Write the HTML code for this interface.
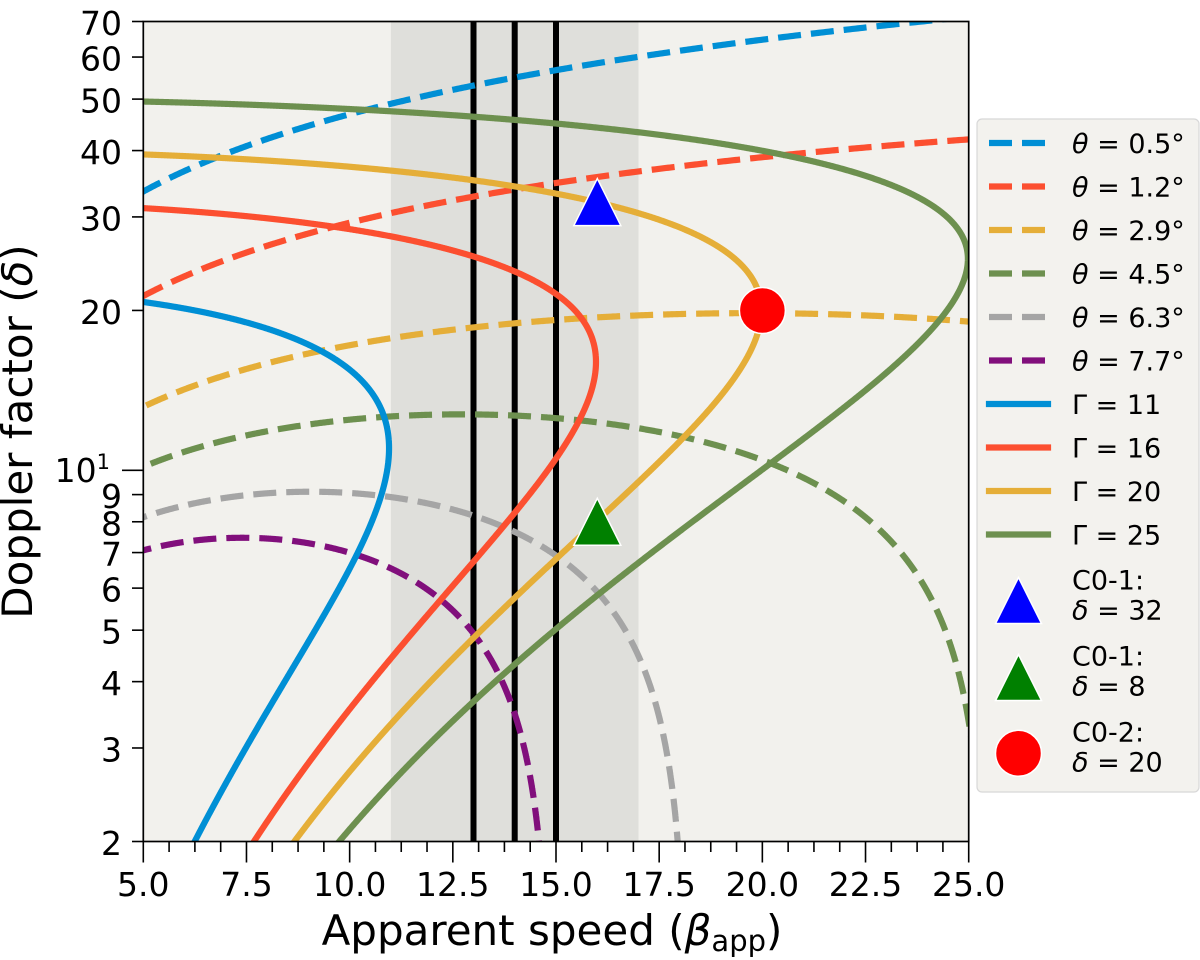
<!DOCTYPE html>
<html>
<head>
<meta charset="utf-8">
<style>
  html,body{margin:0;padding:0;background:#ffffff;}
  svg{display:block;}
  text{font-family:"DejaVu Sans","Liberation Sans",sans-serif;fill:#000;}
</style>
</head>
<body>
<svg id="fig" xmlns="http://www.w3.org/2000/svg" width="1200" height="960" viewBox="0 0 1200 960">
  <defs>
    <clipPath id="axclip">
      <rect x="143.3" y="21.5" width="825.4" height="820"/>
    </clipPath>
  </defs>
  <rect x="0" y="0" width="1200" height="960" fill="#ffffff"/>
  <!-- axes background -->
  <rect x="143.3" y="21.5" width="825.4" height="820" fill="#f2f1ed"/>
  <!-- shaded band 11..17 -->
  <rect x="390.9" y="21.5" width="247.6" height="820" fill="#dfdfdb"/>
  <!-- vertical lines at 13, 14, 15 -->
  <g stroke="#000" stroke-width="6">
    <line x1="473.5" y1="21.5" x2="473.5" y2="841.5"/>
    <line x1="514.7" y1="21.5" x2="514.7" y2="841.5"/>
    <line x1="556.0" y1="21.5" x2="556.0" y2="841.5"/>
  </g>
  <!-- curves -->
  <g id="curves" clip-path="url(#axclip)"></g>
  <!-- markers -->
  <g stroke="#ffffff" stroke-width="1.5">
    <polygon points="597.3,178.6 573.8,225.6 620.8,225.6" fill="#0000ff"/>
    <polygon points="597.3,498.3 573.8,545.3 620.8,545.3" fill="#008000"/>
    <circle cx="762.4" cy="310.5" r="23" fill="#ff0000"/>
  </g>
  <!-- spines -->
  <rect x="143.3" y="21.5" width="825.4" height="820" fill="none" stroke="#000" stroke-width="1.7"/>
  <!-- ticks -->
  <g id="ticks" stroke="#000" stroke-width="1.6"></g>
  <!-- x tick labels -->
  <g font-size="33" text-anchor="middle">
    <text x="143.3" y="896">5.0</text>
    <text x="246.5" y="896">7.5</text>
    <text x="349.7" y="896">10.0</text>
    <text x="452.8" y="896">12.5</text>
    <text x="556.0" y="896">15.0</text>
    <text x="659.2" y="896">17.5</text>
    <text x="762.4" y="896">20.0</text>
    <text x="865.5" y="896">22.5</text>
    <text x="968.7" y="896">25.0</text>
  </g>
  <!-- y tick labels -->
  <g font-size="33" text-anchor="end">
    <text x="122" y="855">2</text>
    <text x="122" y="761.5">3</text>
    <text x="122" y="695.1">4</text>
    <text x="122" y="643.7">5</text>
    <text x="122" y="601.6">6</text>
    <text x="122" y="566.1">7</text>
    <text x="122" y="535.3">8</text>
    <text x="122" y="508.1">9</text>
    <text x="110" y="482">10<tspan font-size="21" dy="-13">1</tspan></text>
    <text x="122" y="323.9">20</text>
    <text x="122" y="230.4">30</text>
    <text x="122" y="164.1">40</text>
    <text x="122" y="112.6">50</text>
    <text x="122" y="70.6">60</text>
    <text x="122" y="35">70</text>
  </g>
  <!-- axis labels -->
  <text x="552" y="945" font-size="42" text-anchor="middle">Apparent speed (<tspan font-style="italic">β</tspan><tspan font-size="29" dy="6">app</tspan><tspan dy="-6">)</tspan></text>
  <text transform="translate(32,431.5) rotate(-90)" x="0" y="0" font-size="42" text-anchor="middle">Doppler factor (<tspan font-style="italic">δ</tspan>)</text>

  <!-- legend -->
  <rect x="977" y="119" width="222" height="673" rx="5" ry="5" fill="#f3f2ee" stroke="#d8d8d8" stroke-width="1.2"/>
  <g stroke-width="6.2" fill="none">
    <line x1="989" y1="143" x2="1048" y2="143" stroke="#008fd5" stroke-dasharray="23 10"/>
    <line x1="989" y1="186.5" x2="1048" y2="186.5" stroke="#fc4f30" stroke-dasharray="23 10"/>
    <line x1="989" y1="230" x2="1048" y2="230" stroke="#e5ae38" stroke-dasharray="23 10"/>
    <line x1="989" y1="273.5" x2="1048" y2="273.5" stroke="#6d904f" stroke-dasharray="23 10"/>
    <line x1="989" y1="317" x2="1048" y2="317" stroke="#a5a5a5" stroke-dasharray="23 10"/>
    <line x1="989" y1="360.5" x2="1048" y2="360.5" stroke="#810f7c" stroke-dasharray="23 10"/>
    <line x1="989" y1="404" x2="1048" y2="404" stroke="#008fd5" stroke-linecap="square"/>
    <line x1="989" y1="447.5" x2="1048" y2="447.5" stroke="#fc4f30" stroke-linecap="square"/>
    <line x1="989" y1="491" x2="1048" y2="491" stroke="#e5ae38" stroke-linecap="square"/>
    <line x1="989" y1="534.5" x2="1048" y2="534.5" stroke="#6d904f" stroke-linecap="square"/>
  </g>
  <g stroke="#ffffff" stroke-width="1.5">
    <polygon points="1018.5,577.5 995.5,623.5 1041.5,623.5" fill="#0000ff"/>
    <polygon points="1018.5,654.5 995.5,700.5 1041.5,700.5" fill="#008000"/>
    <circle cx="1018.5" cy="753.3" r="23" fill="#ff0000"/>
  </g>
  <g font-size="27">
    <text x="1072" y="153"><tspan font-style="italic">θ</tspan> = 0.5°</text>
    <text x="1072" y="196.5"><tspan font-style="italic">θ</tspan> = 1.2°</text>
    <text x="1072" y="240"><tspan font-style="italic">θ</tspan> = 2.9°</text>
    <text x="1072" y="283.5"><tspan font-style="italic">θ</tspan> = 4.5°</text>
    <text x="1072" y="327"><tspan font-style="italic">θ</tspan> = 6.3°</text>
    <text x="1072" y="370.5"><tspan font-style="italic">θ</tspan> = 7.7°</text>
    <text x="1072" y="414">Γ = 11</text>
    <text x="1072" y="457.5">Γ = 16</text>
    <text x="1072" y="501">Γ = 20</text>
    <text x="1072" y="544.5">Γ = 25</text>
    <text x="1072" y="589.5">C0-1:</text>
    <text x="1072" y="619.5"><tspan font-style="italic">δ</tspan> = 32</text>
    <text x="1072" y="665.5">C0-1:</text>
    <text x="1072" y="695.5"><tspan font-style="italic">δ</tspan> = 8</text>
    <text x="1072" y="741.5">C0-2:</text>
    <text x="1072" y="771.5"><tspan font-style="italic">δ</tspan> = 20</text>
  </g>
</svg>
<script>
(function(){
  var NS='http://www.w3.org/2000/svg';
  var X0=143.3,X1=968.7,Y0=21.5,Y1=841.5,L35=Math.log10(35);
  function px(b){return X0+(b-5)*(X1-X0)/20;}
  function py(d){return Y1-Math.log10(d/2)*(Y1-Y0)/L35;}

  function clipPoly(pts){
    var xmin=-1,xmax=1201,ymin=-1,ymax=961;
    var subs=[],cur=null;
    for(var i=1;i<pts.length;i++){
      var x0=pts[i-1][0],y0=pts[i-1][1],x1=pts[i][0],y1=pts[i][1];
      var t0=0,t1=1,dx=x1-x0,dy=y1-y0;
      var p=[-dx,dx,-dy,dy],q=[x0-xmin,xmax-x0,y0-ymin,ymax-y0];
      var ok=true;
      for(var k=0;k<4;k++){
        if(p[k]===0){ if(q[k]<0){ok=false;break;} }
        else{
          var r=q[k]/p[k];
          if(p[k]<0){ if(r>t1){ok=false;break;} if(r>t0)t0=r; }
          else{ if(r<t0){ok=false;break;} if(r<t1)t1=r; }
        }
      }
      if(!ok){cur=null;continue;}
      var ax=x0+t0*dx,ay=y0+t0*dy,bx=x0+t1*dx,by=y0+t1*dy;
      if(cur && t0===0){ cur.push([bx,by]); }
      else { cur=[[ax,ay],[bx,by]]; subs.push(cur); }
      if(t1<1) cur=null;
    }
    return subs;
  }

  function addPath(parent,subs,color,dashed){
    subs.forEach(function(s){
      var d='';
      for(var i=0;i<s.length;i++){ d+=(i?'L':'M')+s[i][0].toFixed(2)+' '+s[i][1].toFixed(2); }
      var p=document.createElementNS(NS,'path');
      p.setAttribute('d',d);
      p.setAttribute('fill','none');
      p.setAttribute('stroke',color);
      p.setAttribute('stroke-width','6.2');
      p.setAttribute('stroke-linejoin','round');
      if(dashed){ p.setAttribute('stroke-dasharray','23 10'); p.setAttribute('stroke-linecap','butt'); }
      else { p.setAttribute('stroke-linecap','square'); }
      parent.appendChild(p);
    });
  }

  var g=document.getElementById('curves');
  var thetas=[[0.5,'#008fd5'],[1.2,'#fc4f30'],[2.9,'#e5ae38'],[4.5,'#6d904f'],[6.3,'#a5a5a5'],[7.7,'#810f7c']];
  thetas.forEach(function(tc){
    var th=tc[0]*Math.PI/180,co=Math.cos(th),si=Math.sin(th);
    var pts=[];
    for(var i=0;i<=5000;i++){
      var G=Math.pow(10,i/5000*3.5);
      var b=Math.sqrt(Math.max(0,1-1/(G*G)));
      var D=1-b*co;
      var ba=b*si/D, dl=1/(G*D);
      var y=py(dl); if(y>5000)y=5000;
      var x=px(ba); if(x>5000)x=5000;
      pts.push([x,y]);
    }
    addPath(g,clipPoly(pts),tc[1],true);
  });

  var gammas=[[11,'#008fd5'],[16,'#fc4f30'],[20,'#e5ae38'],[25,'#6d904f']];
  gammas.forEach(function(gc){
    var G=gc[0],b=Math.sqrt(1-1/(G*G));
    var pts=[];
    for(var i=0;i<=5000;i++){
      var th=Math.pow(10,-4+i/5000*4.196);
      var D=1-b*Math.cos(th);
      var ba=b*Math.sin(th)/D, dl=1/(G*D);
      var y=py(dl); if(y>5000)y=5000;
      pts.push([px(ba),y]);
    }
    addPath(g,clipPoly(pts),gc[1],false);
  });

  // ticks
  var tg=document.getElementById('ticks');
  function ln(x1,y1,x2,y2){
    var l=document.createElementNS(NS,'line');
    l.setAttribute('x1',x1);l.setAttribute('y1',y1);l.setAttribute('x2',x2);l.setAttribute('y2',y2);
    tg.appendChild(l);
  }
  for(var k=0;k<=32;k++){
    var v=5+k*0.625, x=px(v);
    if(k%4===0) ln(x,841.5,x,862.5); else ln(x,841.5,x,852);
  }
  var minors=[2,3,4,5,6,7,8,9,20,30,40,50,60,70];
  minors.forEach(function(d){ var y=py(d); ln(132,y,143.3,y); });
  var y10=py(10); ln(122,y10,143.3,y10);
})();
</script>
</body>
</html>
